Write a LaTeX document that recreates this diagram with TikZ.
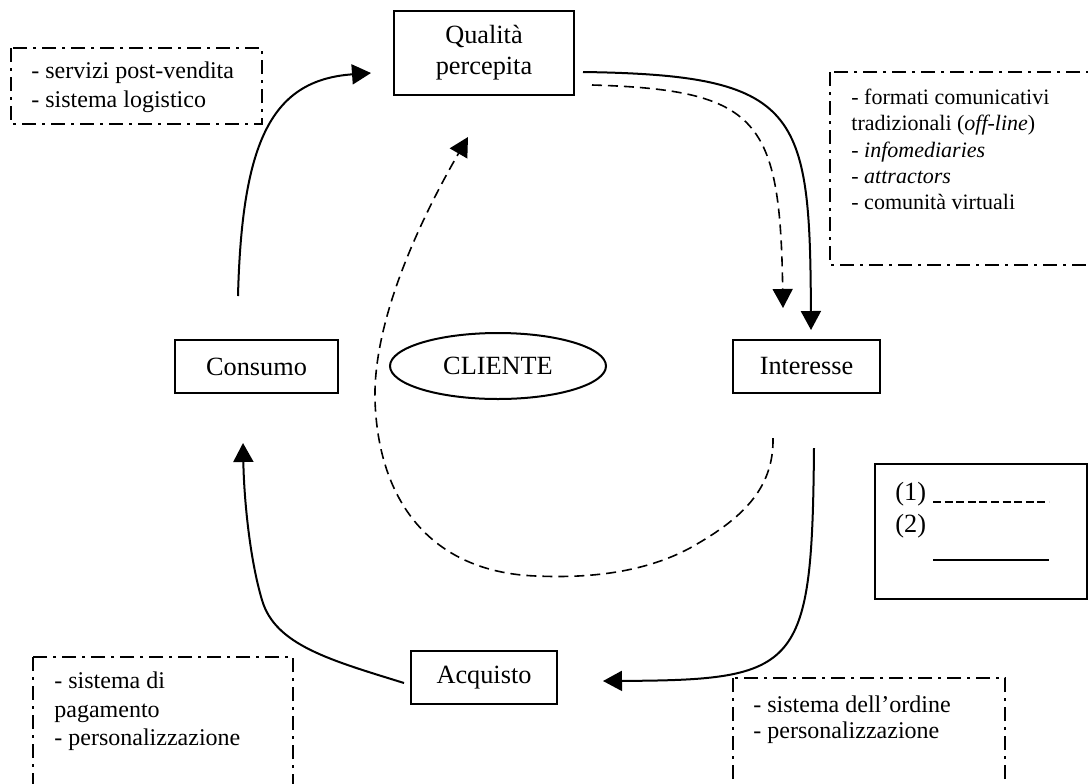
\documentclass[tikz,border=0pt]{standalone}
\usepackage{fontspec}
\setmainfont{Liberation Serif}
\usetikzlibrary{arrows.meta,shapes.geometric}
\begin{document}
\begin{tikzpicture}[x=0.5pt,y=-0.5pt,
  font=\fontsize{13.15pt}{15.5pt}\selectfont,
  box/.style={draw, line width=1pt, inner sep=0pt, align=center},
  ddbox/.style={draw, line width=0.9pt, dash pattern=on 7pt off 3pt on 1.5pt off 3pt},
  lst/.style={anchor=west, align=left, inner sep=0pt},
  arr/.style={line width=1pt, -{Triangle[length=9.5pt,width=10pt]}},
  darr/.style={line width=0.8pt, dash pattern=on 5pt off 3pt, -{Triangle[length=9.5pt,width=10pt]}},
]
\useasboundingbox (0,0) rectangle (1088,783);
\clip (0,0) rectangle (1088,783);

% main nodes
\node[box, minimum width=90pt, minimum height=42pt] (qual) at (484,53) {Qualità\\percepita};
\node[box, minimum width=81.5pt, minimum height=26.5pt] (cons) at (256.5,366.5) {Consumo};
\node[draw, ellipse, line width=1pt, minimum width=108pt, minimum height=33pt, inner sep=0pt] (cli) at (498,366) {CLIENTE};
\node[box, minimum width=73.5pt, minimum height=26.5pt] (inte) at (806.5,366.5) {Interesse};
\node[box, minimum width=73pt, minimum height=26.5pt] (acq) at (484,677.5) {Acquisto};

% legend
\node[box, minimum width=106pt, minimum height=67.5pt] (leg) at (981,531.5) {};
\node[lst] (l1) at (895,494) {(1)};
\node[lst] (l2) at (895,526) {(2)};
\coordinate (l1a) at (933,502); \coordinate (l1b) at (1049,502);
\coordinate (l2a) at (933,560); \coordinate (l2b) at (1049,560);
\draw[line width=0.9pt, dash pattern=on 4pt off 1.8pt] (l1a) -- (l1b);
\draw[line width=0.9pt] (l2a) -- (l2b);

% dash-dot boxes
\draw[ddbox] (11,48) rectangle (262,124);
\node[lst, font=\fontsize{12pt}{14.5pt}\selectfont] (t1) at (31,87.5)
  {- servizi post-vendita\\- sistema logistico};
\draw[ddbox] (830,72) rectangle (1110,265);
\node[lst, font=\fontsize{11pt}{13.1pt}\selectfont] (t2) at (851,149.5)
  {- formati comunicativi\\tradizionali (\textit{off-line})\\- \textit{infomediaries}\\- \textit{attractors}\\- comunità virtuali};
\draw[ddbox] (33,657) rectangle (293,810);
\node[lst, font=\fontsize{12pt}{14.25pt}\selectfont] (t3) at (54,711.5)
  {- sistema di\\pagamento\\- personalizzazione};
\draw[ddbox] (733,678) rectangle (1005,810);
\node[lst, font=\fontsize{12pt}{13pt}\selectfont] (t4) at (753,720)
  {- sistema dell’ordine\\- personalizzazione};

% connector end points
\coordinate (a1s) at (238,296);  \coordinate (a1e) at (371,73);
\coordinate (a2s) at (583,72);   \coordinate (a2e) at (811,330);
\coordinate (a3s) at (592,85);   \coordinate (a3e) at (783,308);
\coordinate (a4s) at (814,448);  \coordinate (a4e) at (603,681);
\coordinate (a5s) at (404,683);  \coordinate (a5e) at (243,443);
\coordinate (a6s) at (773,438);  \coordinate (a6e) at (468,137);

% solid cycle (2)
\draw[arr] (a1s) .. controls (242,140) and (272,80) .. (a1e);
\draw[arr] (a2s) .. controls (800,75) and (810,110) .. (a2e);
\draw[arr] (a4s) .. controls (812,670) and (800,680) .. (a4e);
\draw[arr] (a5s) .. controls (330,660) and (275,645) .. (262,600)
                 .. controls (250,560) and (244,500) .. (a5e);

% dashed paths (1)
\draw[darr] (a3s) .. controls (760,90) and (780,120) .. (a3e);
\draw[darr] (a6s) .. controls (774,490) and (740,520) .. (690,548)
                  .. controls (640,575) and (580,578) .. (536,576)
                  .. controls (430,572) and (378,500) .. (375,400)
                  .. controls (373,320) and (420,220) .. (a6e);
\end{tikzpicture}
\end{document}
